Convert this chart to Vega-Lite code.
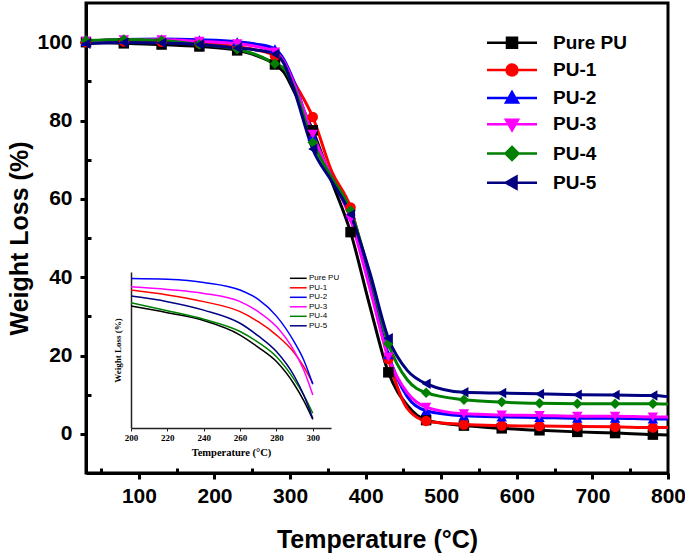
{
  "$schema": "https://vega.github.io/schema/vega-lite/v6.json",
  "width": 582,
  "height": 470,
  "autosize": {"type": "none"},
  "padding": {"left": 86, "top": 3, "right": 17, "bottom": 83},
  "background": "white",
  "config": {
    "view": {"stroke": "#000", "strokeWidth": 3},
    "axis": {"grid": false}
  },
  "datasets": {
    "tga": [
      {"series":"Pure PU","T":30,"W":100.0},{"series":"Pure PU","T":80,"W":99.7},{"series":"Pure PU","T":130,"W":99.4},{"series":"Pure PU","T":180,"W":98.9},{"series":"Pure PU","T":230,"W":97.9},{"series":"Pure PU","T":255,"W":96.6},{"series":"Pure PU","T":280,"W":94.3},{"series":"Pure PU","T":292,"W":92.3},{"series":"Pure PU","T":305,"W":87.5},{"series":"Pure PU","T":330,"W":77.5},{"series":"Pure PU","T":355,"W":64.5},{"series":"Pure PU","T":380,"W":51.5},{"series":"Pure PU","T":405,"W":33.0},{"series":"Pure PU","T":430,"W":15.7},{"series":"Pure PU","T":455,"W":7.3},{"series":"Pure PU","T":480,"W":3.5},{"series":"Pure PU","T":530,"W":2.1},{"series":"Pure PU","T":580,"W":1.4},{"series":"Pure PU","T":630,"W":0.9},{"series":"Pure PU","T":680,"W":0.5},{"series":"Pure PU","T":730,"W":0.2},{"series":"Pure PU","T":780,"W":-0.2},{"series":"Pure PU","T":800,"W":-0.3},
      {"series":"PU-1","T":30,"W":100.0},{"series":"PU-1","T":80,"W":100.2},{"series":"PU-1","T":130,"W":100.1},{"series":"PU-1","T":180,"W":99.7},{"series":"PU-1","T":230,"W":98.8},{"series":"PU-1","T":255,"W":98.0},{"series":"PU-1","T":280,"W":96.5},{"series":"PU-1","T":292,"W":94.8},{"series":"PU-1","T":305,"W":90.0},{"series":"PU-1","T":330,"W":80.9},{"series":"PU-1","T":355,"W":67.0},{"series":"PU-1","T":380,"W":57.8},{"series":"PU-1","T":405,"W":39.0},{"series":"PU-1","T":430,"W":19.1},{"series":"PU-1","T":455,"W":6.5},{"series":"PU-1","T":480,"W":3.3},{"series":"PU-1","T":530,"W":2.4},{"series":"PU-1","T":580,"W":2.1},{"series":"PU-1","T":630,"W":2.0},{"series":"PU-1","T":680,"W":1.9},{"series":"PU-1","T":730,"W":1.8},{"series":"PU-1","T":780,"W":1.6},{"series":"PU-1","T":800,"W":1.6},
      {"series":"PU-2","T":30,"W":100.2},{"series":"PU-2","T":80,"W":100.7},{"series":"PU-2","T":130,"W":100.8},{"series":"PU-2","T":180,"W":100.6},{"series":"PU-2","T":230,"W":100.1},{"series":"PU-2","T":255,"W":99.5},{"series":"PU-2","T":280,"W":98.3},{"series":"PU-2","T":292,"W":95.5},{"series":"PU-2","T":305,"W":90.0},{"series":"PU-2","T":330,"W":76.0},{"series":"PU-2","T":355,"W":65.5},{"series":"PU-2","T":380,"W":56.0},{"series":"PU-2","T":405,"W":38.5},{"series":"PU-2","T":430,"W":20.2},{"series":"PU-2","T":455,"W":9.5},{"series":"PU-2","T":480,"W":5.9},{"series":"PU-2","T":530,"W":4.6},{"series":"PU-2","T":580,"W":4.3},{"series":"PU-2","T":630,"W":4.2},{"series":"PU-2","T":680,"W":4.0},{"series":"PU-2","T":730,"W":4.0},{"series":"PU-2","T":780,"W":3.8},{"series":"PU-2","T":800,"W":3.8},
      {"series":"PU-3","T":30,"W":100.3},{"series":"PU-3","T":80,"W":100.6},{"series":"PU-3","T":130,"W":100.6},{"series":"PU-3","T":180,"W":100.2},{"series":"PU-3","T":230,"W":99.6},{"series":"PU-3","T":255,"W":98.9},{"series":"PU-3","T":280,"W":97.5},{"series":"PU-3","T":292,"W":95.0},{"series":"PU-3","T":305,"W":89.5},{"series":"PU-3","T":330,"W":76.5},{"series":"PU-3","T":355,"W":65.5},{"series":"PU-3","T":380,"W":54.8},{"series":"PU-3","T":405,"W":37.5},{"series":"PU-3","T":430,"W":19.6},{"series":"PU-3","T":455,"W":10.5},{"series":"PU-3","T":480,"W":6.8},{"series":"PU-3","T":530,"W":5.1},{"series":"PU-3","T":580,"W":4.8},{"series":"PU-3","T":630,"W":4.7},{"series":"PU-3","T":680,"W":4.5},{"series":"PU-3","T":730,"W":4.5},{"series":"PU-3","T":780,"W":4.3},{"series":"PU-3","T":800,"W":4.3},
      {"series":"PU-4","T":30,"W":100.4},{"series":"PU-4","T":80,"W":100.7},{"series":"PU-4","T":130,"W":100.4},{"series":"PU-4","T":180,"W":99.4},{"series":"PU-4","T":230,"W":98.2},{"series":"PU-4","T":255,"W":96.8},{"series":"PU-4","T":280,"W":94.5},{"series":"PU-4","T":292,"W":93.3},{"series":"PU-4","T":305,"W":88.5},{"series":"PU-4","T":330,"W":74.4},{"series":"PU-4","T":355,"W":65.5},{"series":"PU-4","T":380,"W":57.0},{"series":"PU-4","T":405,"W":41.0},{"series":"PU-4","T":430,"W":23.0},{"series":"PU-4","T":455,"W":13.8},{"series":"PU-4","T":480,"W":10.5},{"series":"PU-4","T":530,"W":8.7},{"series":"PU-4","T":580,"W":8.1},{"series":"PU-4","T":630,"W":7.8},{"series":"PU-4","T":680,"W":7.7},{"series":"PU-4","T":730,"W":7.7},{"series":"PU-4","T":780,"W":7.7},{"series":"PU-4","T":800,"W":7.6},
      {"series":"PU-5","T":30,"W":99.6},{"series":"PU-5","T":80,"W":99.9},{"series":"PU-5","T":130,"W":99.8},{"series":"PU-5","T":180,"W":99.4},{"series":"PU-5","T":230,"W":98.5},{"series":"PU-5","T":255,"W":98.0},{"series":"PU-5","T":280,"W":97.0},{"series":"PU-5","T":292,"W":94.5},{"series":"PU-5","T":305,"W":88.0},{"series":"PU-5","T":330,"W":72.7},{"series":"PU-5","T":355,"W":64.5},{"series":"PU-5","T":380,"W":56.0},{"series":"PU-5","T":405,"W":41.5},{"series":"PU-5","T":430,"W":24.4},{"series":"PU-5","T":455,"W":16.2},{"series":"PU-5","T":480,"W":12.8},{"series":"PU-5","T":530,"W":10.6},{"series":"PU-5","T":580,"W":10.4},{"series":"PU-5","T":630,"W":10.2},{"series":"PU-5","T":680,"W":10.0},{"series":"PU-5","T":730,"W":9.9},{"series":"PU-5","T":780,"W":9.8},{"series":"PU-5","T":800,"W":9.5}
    ],
    "inset": [
      {"series":"Pure PU","T":200,"W":98.47},{"series":"Pure PU","T":220,"W":98.17},{"series":"Pure PU","T":240,"W":97.82},{"series":"Pure PU","T":260,"W":97.17},{"series":"Pure PU","T":270,"W":96.62},{"series":"Pure PU","T":280,"W":95.98},{"series":"Pure PU","T":290,"W":94.93},{"series":"Pure PU","T":295,"W":94.23},{"series":"Pure PU","T":300,"W":93.39},
      {"series":"PU-1","T":200,"W":99.19},{"series":"PU-1","T":220,"W":98.97},{"series":"PU-1","T":240,"W":98.67},{"series":"PU-1","T":260,"W":98.22},{"series":"PU-1","T":270,"W":97.77},{"series":"PU-1","T":280,"W":97.17},{"series":"PU-1","T":290,"W":96.35},{"series":"PU-1","T":295,"W":95.75},{"series":"PU-1","T":300,"W":95.0},
      {"series":"PU-2","T":200,"W":99.71},{"series":"PU-2","T":220,"W":99.67},{"series":"PU-2","T":240,"W":99.53},{"series":"PU-2","T":260,"W":99.19},{"series":"PU-2","T":270,"W":98.77},{"series":"PU-2","T":280,"W":98.02},{"series":"PU-2","T":290,"W":96.83},{"series":"PU-2","T":295,"W":96.05},{"series":"PU-2","T":300,"W":94.96},
      {"series":"PU-3","T":200,"W":99.34},{"series":"PU-3","T":220,"W":99.22},{"series":"PU-3","T":240,"W":99.04},{"series":"PU-3","T":260,"W":98.67},{"series":"PU-3","T":270,"W":98.22},{"series":"PU-3","T":280,"W":97.55},{"series":"PU-3","T":290,"W":96.42},{"series":"PU-3","T":295,"W":95.6},{"series":"PU-3","T":300,"W":94.48},
      {"series":"PU-4","T":200,"W":98.62},{"series":"PU-4","T":220,"W":98.26},{"series":"PU-4","T":240,"W":97.88},{"series":"PU-4","T":260,"W":97.33},{"series":"PU-4","T":270,"W":96.84},{"series":"PU-4","T":280,"W":96.2},{"series":"PU-4","T":290,"W":95.15},{"series":"PU-4","T":295,"W":94.48},{"series":"PU-4","T":300,"W":93.66},
      {"series":"PU-5","T":200,"W":98.92},{"series":"PU-5","T":220,"W":98.67},{"series":"PU-5","T":240,"W":98.29},{"series":"PU-5","T":260,"W":97.7},{"series":"PU-5","T":270,"W":97.13},{"series":"PU-5","T":280,"W":96.43},{"series":"PU-5","T":290,"W":95.3},{"series":"PU-5","T":295,"W":94.48},{"series":"PU-5","T":300,"W":93.43}
    ]
  },
  "layer": [
    {
      "data": {"name": "tga"},
      "mark": {"type": "line", "interpolate": "monotone", "strokeWidth": 3},
      "encoding": {
        "x": {"field": "T", "type": "quantitative", "scale": {"domain": [30, 800], "nice": false, "zero": false},
          "axis": {"orient": "bottom", "values": [100,200,300,400,500,600,700,800], "tickSize": 6, "tickWidth": 3, "tickColor": "#000", "domainColor": "#000", "domainWidth": 3,
            "labelFont": "Liberation Sans", "labelFontWeight": "bold", "labelFontSize": 21, "labelColor": "#000", "labelPadding": 6, "labelFlush": false, "labelOverlap": false,
            "title": "Temperature (°C)", "titleFont": "Liberation Sans", "titleFontSize": 25, "titleFontWeight": "bold", "titleColor": "#000", "titlePadding": 21}},
        "y": {"field": "W", "type": "quantitative", "scale": {"domain": [-10, 110], "nice": false, "zero": false},
          "axis": {"orient": "left", "values": [0,20,40,60,80,100], "tickSize": 6, "tickWidth": 3, "tickColor": "#000", "domainColor": "#000", "domainWidth": 3,
            "labelFont": "Liberation Sans", "labelFontWeight": "bold", "labelFontSize": 21, "labelColor": "#000", "labelPadding": 8, "labelFlush": false, "labelOverlap": false,
            "title": "Weight Loss (%)", "titleFont": "Liberation Sans", "titleFontSize": 25, "titleFontWeight": "bold", "titleColor": "#000", "titlePadding": 4}},
        "color": {"field": "series", "type": "nominal", "scale": {"domain": ["Pure PU","PU-1","PU-2","PU-3","PU-4","PU-5"], "range": ["#000000","#FF0000","#0000FF","#FF00FF","#008000","#000080"]}, "legend": null}
      }
    },
    {
      "data": {"name": "tga"},
      "transform": [{"filter": {"field": "T", "oneOf": [30,80,130,180,230,280,330,380,430,480,530,580,630,680,730,780]}}],
      "mark": {"type": "point", "filled": true, "size": 110, "opacity": 1},
      "encoding": {
        "x": {"field": "T", "type": "quantitative", "scale": {"domain": [30, 800], "nice": false, "zero": false},
          "axis": {"orient": "bottom", "values": [50,150,250,350,450,550,650,750], "tickSize": -5, "tickWidth": 3, "tickColor": "#000", "domain": false, "labels": false, "title": null}},
        "y": {"field": "W", "type": "quantitative", "scale": {"domain": [-10, 110], "nice": false, "zero": false},
          "axis": {"orient": "left", "values": [10,30,50,70,90], "tickSize": -5, "tickWidth": 3, "tickColor": "#000", "domain": false, "labels": false, "title": null}},
        "color": {"field": "series", "type": "nominal", "scale": {"domain": ["Pure PU","PU-1","PU-2","PU-3","PU-4","PU-5"], "range": ["#000000","#FF0000","#0000FF","#FF00FF","#008000","#000080"]}, "legend": null},
        "shape": {"field": "series", "type": "nominal", "scale": {"domain": ["Pure PU","PU-1","PU-2","PU-3","PU-4","PU-5"], "range": ["square","circle","triangle-up","triangle-down","diamond","triangle-left"]}, "legend": null}
      }
    },
    {
      "data": {"name": "tga"},
      "transform": [{"filter": {"field": "T", "equal": 30}}],
      "mark": {"type": "point", "filled": true, "size": 100, "opacity": 0, "strokeWidth": 2.5},
      "encoding": {
        "x": {"field": "T", "type": "quantitative", "scale": {"domain": [30, 800]}, "axis": null},
        "y": {"field": "W", "type": "quantitative", "scale": {"domain": [-10, 110]}, "axis": null},
        "fill": {"field": "series", "type": "nominal", "scale": {"domain": ["Pure PU","PU-1","PU-2","PU-3","PU-4","PU-5"], "range": ["#000000","#FF0000","#0000FF","#FF00FF","#008000","#000080"]},
          "legend": {"title": null, "orient": "none", "legendX": 416.5, "legendY": 30.2, "padding": 0, "symbolSize": 100, "symbolStrokeWidth": 2.5, "symbolOpacity": 1, "labelFont": "Liberation Sans", "labelFontWeight": "bold", "labelFontSize": 19, "labelColor": "#000", "labelOffset": 31.5, "rowPadding": 6.2, "labelLimit": 300}},
        "stroke": {"field": "series", "type": "nominal", "scale": {"domain": ["Pure PU","PU-1","PU-2","PU-3","PU-4","PU-5"], "range": ["#000000","#FF0000","#0000FF","#FF00FF","#008000","#000080"]},
          "legend": {"title": null, "orient": "none", "legendX": 416.5, "legendY": 30.2, "padding": 0, "symbolSize": 100, "symbolStrokeWidth": 2.5, "symbolOpacity": 1, "labelFont": "Liberation Sans", "labelFontWeight": "bold", "labelFontSize": 19, "labelColor": "#000", "labelOffset": 31.5, "rowPadding": 6.2, "labelLimit": 300}},
        "shape": {"field": "series", "type": "nominal", "scale": {"domain": ["Pure PU","PU-1","PU-2","PU-3","PU-4","PU-5"], "range": ["M-5,0H5M-1,-1H1V1H-1Z", "M-5,0H5M1.1,0A1.1,1.1,0,1,1,-1.1,0A1.1,1.1,0,1,1,1.1,0Z", "M-5,0H5M0,-1.2L1.2,0.9H-1.2Z", "M-5,0H5M0,1.2L1.2,-0.9H-1.2Z", "M-5,0H5M0,-1.3L1.3,0L0,1.3L-1.3,0Z", "M-5,0H5M-1.2,0L0.9,-1.2V1.2Z"]},
          "legend": {"title": null, "orient": "none", "legendX": 416.5, "legendY": 30.2, "padding": 0, "symbolSize": 100, "symbolStrokeWidth": 2.5, "symbolOpacity": 1, "labelFont": "Liberation Sans", "labelFontWeight": "bold", "labelFontSize": 19, "labelColor": "#000", "labelOffset": 31.5, "rowPadding": 6.2, "labelLimit": 300}}
      }
    },
    {
      "data": {"name": "inset"},
      "mark": {"type": "line", "interpolate": "monotone", "strokeWidth": 1.5},
      "encoding": {
        "x": {"field": "T", "type": "quantitative", "scale": {"domain": [200, 310], "range": [45, 245], "nice": false, "zero": false},
          "axis": {"orient": "bottom", "offset": -45, "values": [200,220,240,260,280,300], "tickSize": 3, "tickWidth": 1, "tickColor": "#222", "domainColor": "#222", "domainWidth": 1.5,
            "labelFont": "Liberation Serif", "labelFontWeight": "bold", "labelFontSize": 9, "labelColor": "#000", "labelPadding": 2, "labelFlush": false, "labelOverlap": false,
            "title": "Temperature (°C)", "titleFont": "Liberation Serif", "titleFontSize": 10.5, "titleFontWeight": "bold", "titleColor": "#000", "titlePadding": 5}},
        "y": {"field": "W", "type": "quantitative", "scale": {"domain": [93, 100], "range": [425, 269], "nice": false, "zero": false},
          "axis": {"orient": "left", "offset": -45, "ticks": false, "labels": false, "domainColor": "#222", "domainWidth": 1.5,
            "title": "Weight Loss (%)", "titleFont": "Liberation Serif", "titleFontSize": 9, "titleFontWeight": "bold", "titleColor": "#000", "titlePadding": 9}},
        "stroke": {"field": "series", "type": "nominal", "scale": {"domain": ["Pure PU","PU-1","PU-2","PU-3","PU-4","PU-5"], "range": ["#000000","#FF0000","#0000FF","#FF00FF","#008000","#000080"]},
          "legend": {"title": null, "orient": "none", "legendX": 208.3, "legendY": 271.3, "padding": 0, "symbolType": "M-2.8,0H2.8", "symbolSize": 36, "symbolStrokeWidth": 1.5, "labelFont": "Liberation Sans", "labelFontSize": 8, "labelColor": "#000", "labelOffset": 6.7, "rowPadding": 1.5}}
      }
    }
  ],
  "resolve": {"scale": {"x": "independent", "y": "independent", "shape": "independent", "stroke": "independent", "fill": "independent", "color": "independent"}}
}
